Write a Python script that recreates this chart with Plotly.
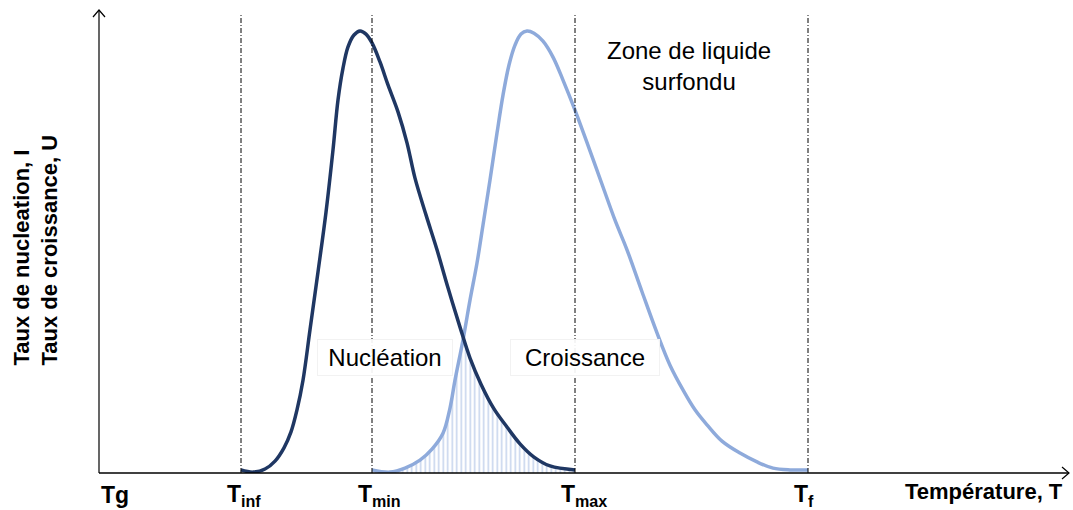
import numpy as np
import plotly.graph_objects as go

# temperatures (arbitrary units along the T axis)
temp_labels = ['<b>Tg</b>', '<b>T<sub>inf</sub></b>', '<b>T<sub>min</sub></b>',
               '<b>T<sub>max</sub></b>', '<b>T<sub>f</sub></b>']
temp_values = [0, 142, 273, 476, 709]

# nucleation rate I (percent of max)
nuc_T = [142, 154, 166, 176, 185, 192, 198, 204, 211, 219,
         227, 234, 239, 244, 249, 255, 261, 267, 273, 281,
         289, 299, 308, 316, 327, 338, 349, 361, 371, 382,
         395, 408, 421, 435, 451, 476]
nuc_I = [0.7, 0.2, 0.9, 2.7, 5.7, 9.3, 14.3, 21.0, 32.4, 45.5,
         59.0, 73.1, 84.4, 91.6, 96.4, 99.1, 100, 99.3, 97.3, 93.0,
         87.8, 81.7, 74.7, 66.7, 58.4, 50.5, 41.9, 33.0, 26.0, 20.1,
         14.5, 10.4, 6.6, 3.6, 1.6, 0.7]

# growth rate U (percent of max)
cro_T = [273, 291, 306, 321, 333, 344, 351, 356, 364, 371,
         378, 384, 391, 398, 404, 410, 416, 422, 428, 435,
         444, 454, 464, 476, 490, 504, 516, 528, 543, 558,
         571, 584, 596, 608, 623, 641, 658, 674, 691, 709]
cro_U = [0.7, 0.2, 1.1, 2.9, 5.4, 9.0, 14.7, 21.0, 30.1, 39.1,
         47.5, 56.1, 66.3, 76.9, 85.5, 92.3, 96.8, 99.3, 100, 99.5,
         97.7, 94.1, 88.9, 82.1, 73.5, 64.7, 57.2, 50.5, 41.0, 31.7,
         24.4, 18.8, 14.3, 10.9, 7.2, 4.5, 2.5, 1.1, 0.7, 0.7]

W, H = 1073, 510
ML, MR, MT, MB = 99, 4, 10, 37
XMAX = 970
YMAX = 104.75
DARK = '#1f3763'
LIGHT = '#8eaadb'
FONT = 'Liberation Sans, Arial, sans-serif'


def px(x):
    return (x - ML) / (W - ML - MR)


def py(y):
    return (H - MB - y) / (H - MT - MB)


# overlap zone (hatched): under both curves
grid = np.unique(np.concatenate([np.array(nuc_T), np.array(cro_T)]))
grid = grid[(grid >= temp_values[2]) & (grid <= temp_values[3])]
lower = np.minimum(np.interp(grid, nuc_T, nuc_I), np.interp(grid, cro_T, cro_U))

fig = go.Figure()
fig.add_trace(go.Scatter(
    x=grid, y=lower, mode='lines', line=dict(width=0), fill='tozeroy',
    fillcolor='rgba(0,0,0,0)',
    fillpattern=dict(shape='|', size=4.5, solidity=0.35, fgcolor=LIGHT,
                     bgcolor='rgba(0,0,0,0)'),
    hoverinfo='skip', showlegend=False))
fig.add_trace(go.Scatter(x=cro_T, y=cro_U, mode='lines', line_shape='spline',
                         line=dict(color=LIGHT, width=3.5), name='Croissance',
                         showlegend=False))
fig.add_trace(go.Scatter(x=nuc_T, y=nuc_I, mode='lines', line_shape='spline',
                         line=dict(color=DARK, width=3.5), name='Nucléation',
                         showlegend=False))

shapes = []
# dash-dot markers for T_inf, T_min, T_max, T_f
for t in temp_values[1:]:
    shapes.append(dict(type='line', xref='x', yref='y', x0=t, x1=t, y0=0, y1=103.6,
                       line=dict(color='black', width=1, dash='5px,2px,1px,2px')))
# axes with arrows
shapes.append(dict(type='line', xref='paper', yref='paper', x0=0, x1=1, y0=0, y1=0,
                   line=dict(color='black', width=1.5)))
shapes.append(dict(type='line', xref='paper', yref='paper', x0=0, x1=0, y0=0, y1=1,
                   line=dict(color='black', width=1.2)))
shapes.append(dict(type='path', xref='paper', yref='paper',
                   path='M %f,%f L %f,%f L %f,%f' % (px(93), py(17), px(99), py(10), px(105), py(17)),
                   line=dict(color='black', width=1.2)))
shapes.append(dict(type='path', xref='paper', yref='paper',
                   path='M %f,%f L %f,%f L %f,%f' % (px(1062), py(467), px(1069), py(473), px(1062), py(479)),
                   line=dict(color='black', width=1.2)))

ann = []
for lab, t in zip(temp_labels, temp_values):
    ann.append(dict(x=(t - (0 if t == 0 else 16)) / XMAX, y=py(495),
                    xref='paper', yref='paper', text=lab, showarrow=False,
                    xanchor='left', yanchor='middle',
                    font=dict(family=FONT, size=23, color='black')))
ann.append(dict(x=px(1065), y=py(491), xref='paper', yref='paper',
                text='<b>Température, T</b>', showarrow=False,
                xanchor='right', yanchor='middle',
                font=dict(family=FONT, size=22, color='black')))
ann.append(dict(x=px(35), y=py(368), xref='paper', yref='paper',
                text='<b>Taux de nucleation, I<br>Taux de croissance, U</b>',
                textangle=-90, align='left', showarrow=False,
                xanchor='center', yanchor='bottom',
                font=dict(family=FONT, size=22, color='black')))
ann.append(dict(x=px(689), y=py(66), xref='paper', yref='paper',
                text='Zone de liquide<br>surfondu', showarrow=False,
                xanchor='center', yanchor='middle', align='center',
                font=dict(family=FONT, size=24, color='black')))
ann.append(dict(x=px(385), y=py(357), xref='paper', yref='paper',
                text='Nucléation', showarrow=False, xanchor='center', yanchor='middle',
                bgcolor='rgba(255,255,255,0.92)', bordercolor='#f2f2f2', borderwidth=1,
                borderpad=4, width=126,
                font=dict(family=FONT, size=24, color='black')))
ann.append(dict(x=px(585), y=py(357), xref='paper', yref='paper',
                text='Croissance', showarrow=False, xanchor='center', yanchor='middle',
                bgcolor='rgba(255,255,255,0.92)', bordercolor='#f2f2f2', borderwidth=1,
                borderpad=4, width=140,
                font=dict(family=FONT, size=24, color='black')))

fig.update_layout(
    width=W, height=H,
    margin=dict(l=ML, r=MR, t=MT, b=MB),
    paper_bgcolor='white', plot_bgcolor='white',
    xaxis=dict(range=[0, XMAX], visible=False, fixedrange=True),
    yaxis=dict(range=[0, YMAX], visible=False, fixedrange=True),
    shapes=shapes, annotations=ann, showlegend=False,
)

fig.write_html("out.html", config={'displayModeBar': False},
               post_script="document.body.style.margin='0px';")
